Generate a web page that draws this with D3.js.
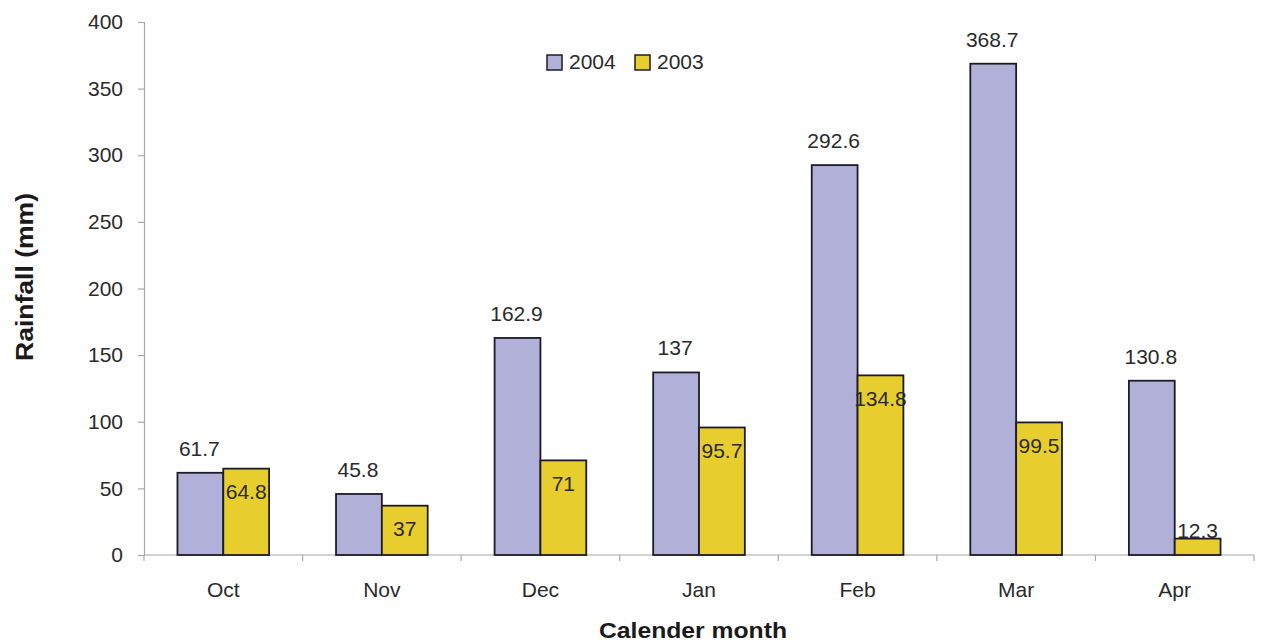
<!DOCTYPE html>
<html>
<head>
<meta charset="utf-8">
<script src="https://cdn.jsdelivr.net/npm/d3@7"></script>
<style>
  html, body { margin: 0; padding: 0; background: #fff; }
  svg { display: block; font-family: "Liberation Sans", Arial, sans-serif; }
</style>
</head>
<body>
<svg id="chart" width="1261" height="642"></svg>
<script>
// Monthly rainfall for two seasons
const months = ["Oct", "Nov", "Dec", "Jan", "Feb", "Mar", "Apr"];
const seriesNames = ["2004", "2003"];
const rain2004 = [61.7, 45.8, 162.9, 137, 292.6, 368.7, 130.8];
const rain2003 = [64.8, 37, 71, 95.7, 134.8, 99.5, 12.3];
const yTicks = [0, 50, 100, 150, 200, 250, 300, 350, 400];

const colors = { "2004": "#b0b0d8", "2003": "#e8cd2e" };
const fontSize = 21;

const svg = d3.select("#chart");
const plotLeft = 144, plotRight = 1254, plotTop = 22, plotBottom = 555;

const x0 = d3.scaleBand().domain(months).range([plotLeft, plotRight]).paddingInner(0).paddingOuter(0);
const x1 = d3.scaleBand().domain(seriesNames).range([0, x0.bandwidth()]).paddingInner(0).paddingOuter(0.73);
const y = d3.scaleLinear().domain([0, 400]).range([plotBottom, plotTop]);

const rows = months.map((m, i) => ({ month: m, values: { "2004": rain2004[i], "2003": rain2003[i] } }));

// Y axis
const yAxis = svg.append("g")
  .attr("transform", `translate(${plotLeft},0)`)
  .call(d3.axisLeft(y).tickValues(yTicks).tickSize(6).tickPadding(15).tickFormat(d3.format("d")));
yAxis.select(".domain").attr("stroke", "#a8a8a8").attr("stroke-width", 1.2);
yAxis.selectAll(".tick line").attr("stroke", "#a8a8a8").attr("stroke-width", 1.2);
yAxis.selectAll(".tick text").attr("font-size", fontSize).attr("fill", "#2a2a2a")
  .attr("font-family", "Liberation Sans, Arial, sans-serif");

// X axis: ticks at the boundaries between months
const boundaries = months.map(m => x0(m)).concat([plotRight]);
const xAxisG = svg.append("g");
xAxisG.append("line")
  .attr("x1", plotLeft).attr("x2", plotRight).attr("y1", y(0)).attr("y2", y(0))
  .attr("stroke", "#a8a8a8").attr("stroke-width", 1.2);
xAxisG.selectAll("line.tk").data(boundaries).join("line").attr("class", "tk")
  .attr("x1", d => d).attr("x2", d => d).attr("y1", y(0)).attr("y2", y(0) + 6)
  .attr("stroke", "#a8a8a8").attr("stroke-width", 1.2);
xAxisG.selectAll("text").data(months).join("text")
  .attr("x", d => x0(d) + x0.bandwidth() / 2)
  .attr("y", 597)
  .attr("text-anchor", "middle")
  .attr("font-size", fontSize).attr("fill", "#2a2a2a")
  .text(d => d);

// Bars
const groups = svg.append("g").selectAll("g").data(rows).join("g")
  .attr("transform", d => `translate(${x0(d.month)},0)`);

groups.selectAll("rect")
  .data(d => seriesNames.map(s => ({ s, v: d.values[s] })))
  .join("rect")
  .attr("x", d => x1(d.s))
  .attr("y", d => y(d.v))
  .attr("width", x1.bandwidth())
  .attr("height", d => y(0) - y(d.v))
  .attr("fill", d => colors[d.s])
  .attr("stroke", "#1c1c28")
  .attr("stroke-width", 1.8);

// Value labels: 2004 above its bar, 2003 just inside the top of its bar
groups.append("text")
  .attr("x", () => x1("2004") + x1.bandwidth() / 2 - 1)
  .attr("y", d => y(d.values["2004"]) - 17)
  .attr("text-anchor", "middle")
  .attr("font-size", fontSize).attr("fill", "#2a2a2a")
  .text(d => d.values["2004"]);

groups.append("text")
  .attr("x", () => x1("2003") + x1.bandwidth() / 2)
  .attr("y", d => Math.min(y(d.values["2003"]) + 23, y(0) - 25))
  .attr("dy", "0.36em")
  .attr("text-anchor", "middle")
  .attr("font-size", fontSize).attr("fill", "#2a2a2a")
  .text(d => d.values["2003"]);

// Legend
const legend = svg.append("g").attr("transform", "translate(547,55)");
const legItems = legend.selectAll("g").data(seriesNames).join("g")
  .attr("transform", (d, i) => `translate(${i * 88},0)`);
legItems.append("rect")
  .attr("width", 15).attr("height", 15)
  .attr("fill", d => colors[d])
  .attr("stroke", "#1c1c28").attr("stroke-width", 1.5);
legItems.append("text")
  .attr("x", 22).attr("y", 14)
  .attr("font-size", fontSize).attr("fill", "#2a2a2a")
  .text(d => d);

// Axis titles
svg.append("text")
  .attr("transform", "translate(33,277) rotate(-90)")
  .attr("text-anchor", "middle")
  .attr("font-size", 24).attr("font-weight", "bold").attr("fill", "#1a1a1a")
  .attr("textLength", 168).attr("lengthAdjust", "spacingAndGlyphs")
  .text("Rainfall (mm)");

svg.append("text")
  .attr("x", 693).attr("y", 638)
  .attr("text-anchor", "middle")
  .attr("font-size", 22).attr("font-weight", "bold").attr("fill", "#1a1a1a")
  .attr("textLength", 188).attr("lengthAdjust", "spacingAndGlyphs")
  .text("Calender month");
</script>
</body>
</html>
